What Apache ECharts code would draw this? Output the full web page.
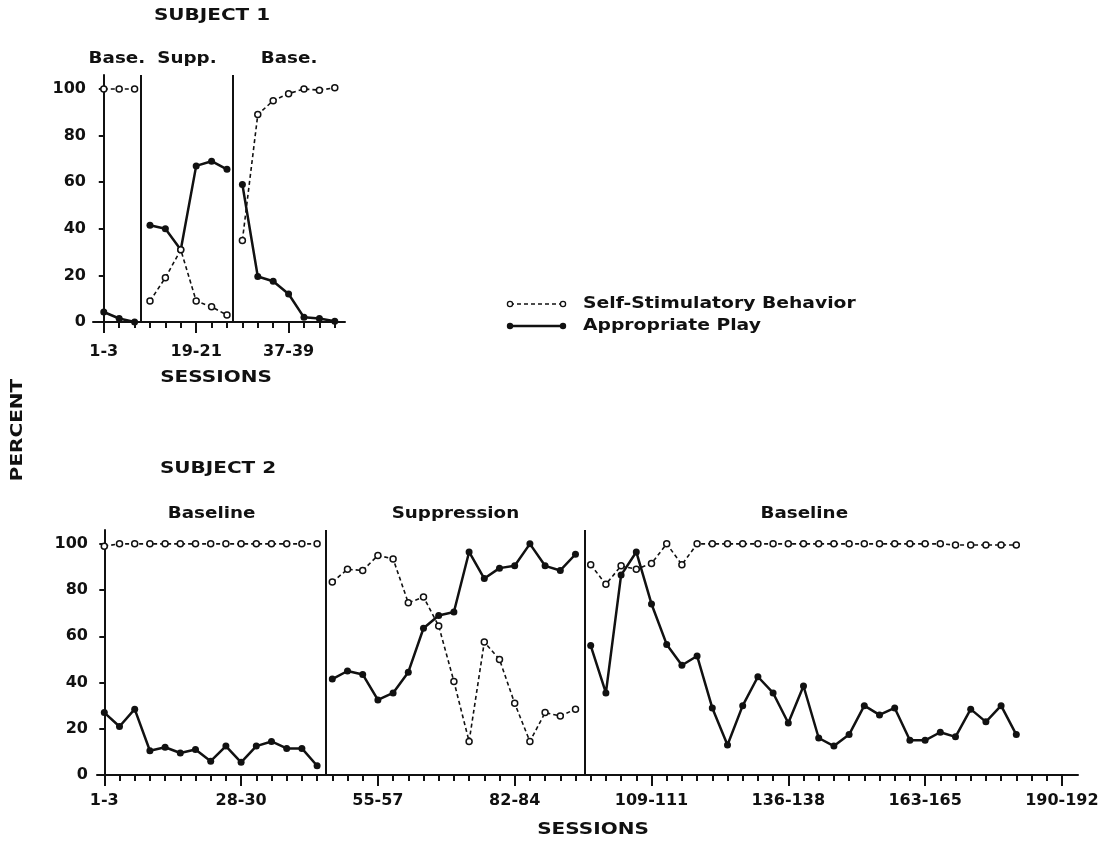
<!DOCTYPE html>
<html>
<head>
    <meta charset="UTF-8">
    <title>percent by sessions</title>
    <script src="https://cdn.jsdelivr.net/npm/echarts@6/dist/echarts.min.js"></script>
</head>
<style type="text/css">
    body {
        margin: 0;
        padding: 0;
        background: #fff;
    }
</style>
<body>
<div id="app" style="width: 1119px;height: 844px;"></div>
<script type="text/javascript">
    // subject 1, one value per block of 3 sessions
    var s1Self = [100, 100, 100, 9, 19, 31, 9, 6.5, 3, 35, 89, 95, 98, 100, 99.5, 100.5];
    var s1Play = [4.3, 1.5, 0, 41.5, 40, 31, 67, 69, 65.5, 59, 19.5, 17.5, 12, 2, 1.5, 0.3];
    var s1PhaseLengths = [3, 6, 7];
    var s1PhaseNames = ['Base.', 'Supp.', 'Base.'];
    var s1PhaseLines = [2.4, 8.4];
    var s1TickPos = [0, 6, 12];
    var s1TickLabels = ['1-3', '19-21', '37-39'];

    // subject 2
    var s2Self = [99, 100, 100, 100, 100, 100, 100, 100, 100, 100, 100, 100, 100, 100, 100,
        83.5, 89, 88.5, 95, 93.5, 74.5, 77, 64.5, 40.5, 14.5, 57.5, 50, 31, 14.5, 27, 25.5, 28.5,
        91, 82.5, 90.5, 89, 91.5, 100, 91, 100, 100, 100, 100, 100, 100, 100, 100, 100, 100, 100,
        100, 100, 100, 100, 100, 100, 99.5, 99.5, 99.5, 99.5, 99.5];
    var s2Play = [27, 21, 28.5, 10.5, 12, 9.5, 11, 6, 12.5, 5.5, 12.5, 14.5, 11.5, 11.5, 4,
        41.5, 45, 43.5, 32.5, 35.5, 44.5, 63.5, 69, 70.5, 96.5, 85, 89.5, 90.5, 100, 90.5, 88.5, 95.5,
        56, 35.5, 86.5, 96.5, 74, 56.5, 47.5, 51.5, 29, 13, 30, 42.5, 35.5, 22.5, 38.5, 16,
        12.5, 17.5, 30, 26, 29, 15, 15, 18.5, 16.5, 28.5, 23, 30, 17.5];
    var s2PhaseLengths = [15, 17, 29];
    var s2PhaseNames = ['Baseline', 'Suppression', 'Baseline'];
    var s2PhaseLines = [14.6, 31.6];
    var s2TickPos = [0, 9, 18, 27, 36, 45, 54, 63];
    var s2TickLabels = ['1-3', '28-30', '55-57', '82-84', '109-111', '136-138', '163-165', '190-192'];

    var yTicks = [0, 20, 40, 60, 80, 100];
    var legendNames = ['Self-Stimulatory Behavior', 'Appropriate Play'];

    var ink = '#111';

    var chart = echarts.init(document.getElementById('app'), null, {renderer: 'canvas'});

    // split one subject's values into one line per phase so lines break at phase changes
    function phaseSeries(values, lengths, axisIdx, open) {
        var out = [];
        var start = 0;
        lengths.forEach(function (len) {
            var pts = [];
            for (var k = 0; k < len; k++) {
                pts.push([start + k, values[start + k]]);
            }
            out.push({
                type: 'line',
                xAxisIndex: axisIdx,
                yAxisIndex: axisIdx,
                data: pts,
                symbol: 'circle',
                symbolSize: open ? 6 : 7,
                showAllSymbol: true,
                z: open ? 4 : 3,
                itemStyle: open ? {color: '#fff', borderColor: ink, borderWidth: 1.5} : {color: ink},
                lineStyle: open ? {color: ink, width: 1.6, type: [4, 3]} : {color: ink, width: 2.5}
            });
            start += len;
        });
        return out;
    }

    function phaseLineSeries(positions, axisIdx) {
        return {
            type: 'line',
            xAxisIndex: axisIdx,
            yAxisIndex: axisIdx,
            data: [],
            markLine: {
                silent: true,
                symbol: ['none', 'none'],
                label: {show: false},
                lineStyle: {color: ink, width: 2, type: 'solid'},
                data: positions.map(function (p) { return {xAxis: p}; })
            }
        };
    }

    function valueX(grid, min, max, showLine, tickLen, tickVals, labelPos, labelTexts, labelMargin) {
        return {
            type: 'value',
            gridIndex: grid,
            min: min,
            max: max,
            splitLine: {show: false},
            axisLine: {show: showLine, onZero: false, lineStyle: {color: ink, width: 2}},
            axisTick: {show: true, length: tickLen, customValues: tickVals, lineStyle: {color: ink, width: 2}},
            axisLabel: labelPos ? {
                show: true,
                customValues: labelPos,
                margin: labelMargin,
                color: ink,
                fontFamily: 'DejaVu Sans',
                fontWeight: 'bold',
                fontSize: 16,
                formatter: function (v) {
                    var i = labelPos.indexOf(Math.round(v));
                    return i >= 0 ? labelTexts[i] : '';
                }
            } : {show: false}
        };
    }

    function valueY(grid, show, margin) {
        return {
            type: 'value',
            gridIndex: grid,
            show: show,
            min: 0,
            max: 106,
            splitLine: {show: false},
            axisLine: {show: true, lineStyle: {color: ink, width: 2}},
            axisTick: {show: true, length: 5, customValues: yTicks, lineStyle: {color: ink, width: 2}},
            axisLabel: {
                customValues: yTicks,
                margin: margin,
                color: ink,
                fontFamily: 'DejaVu Sans',
                fontWeight: 'bold',
                fontSize: 16
            }
        };
    }

    var range1 = Array.from({length: s1Self.length}, function (_, i) { return i; });
    var range2 = Array.from({length: s2Self.length + 3}, function (_, i) { return i; });

    // grids 0/1 carry data, 2/3 sit on top of them only for the long labelled ticks
    var g1 = {left: 93, top: 75, width: 252, height: 247};
    var g2 = {left: 97, top: 530, width: 981, height: 245};

    var s1Min = -0.7, s1Max = -0.7 + 252 / 15.4;
    var s2Min = -0.48, s2Max = -0.48 + 981 / 15.2;

    function txt(text, x, y, opts) {
        opts = opts || {};
        return {
            type: 'text',
            x: x,
            y: y,
            rotation: opts.rotation || 0,
            scaleX: opts.scaleX || 1.22,
            style: {
                text: text,
                font: opts.font || 'bold 15px "DejaVu Sans"',
                fill: ink,
                align: opts.align || 'center',
                verticalAlign: 'middle'
            }
        };
    }

    function legendRow(y, open, label) {
        var x0 = 510, x1 = 563;
        var circ = function (cx) {
            return {
                type: 'circle',
                shape: {cx: cx, cy: y, r: open ? 2.6 : 3.2},
                style: open ? {fill: '#fff', stroke: ink, lineWidth: 1.3} : {fill: ink},
                z: 10
            };
        };
        return [
            {
                type: 'line',
                shape: {x1: x0, y1: y, x2: x1, y2: y},
                style: {stroke: ink, lineWidth: open ? 1.5 : 2.5, lineDash: open ? [4, 3] : null}
            },
            circ(x0), circ(x1),
            txt(label, 583, y, {align: 'left', scaleX: 1.25})
        ];
    }

    function phaseCenters(lines, min, max, left, width) {
        var edges = [min].concat(lines).concat([max]);
        var px = function (v) { return left + (v - min) / (max - min) * width; };
        return [0, 1, 2].map(function (i) { return (px(edges[i]) + px(edges[i + 1])) / 2; });
    }

    var c1 = phaseCenters(s1PhaseLines, s1Min, s1Max, g1.left, g1.width);
    var c2 = phaseCenters(s2PhaseLines, s2Min, 60.5, g2.left, g2.width * (60.5 - s2Min) / (s2Max - s2Min));

    var graphics = [
        txt('SUBJECT 1', 212, 16, {font: 'bold 16px "DejaVu Sans"', scaleX: 1.25}),
        txt('SUBJECT 2', 218, 469, {font: 'bold 16px "DejaVu Sans"', scaleX: 1.25}),
        txt('SESSIONS', 216, 378, {font: 'bold 16px "DejaVu Sans"', scaleX: 1.25}),
        txt('SESSIONS', 593, 830, {font: 'bold 16px "DejaVu Sans"', scaleX: 1.25}),
        txt('PERCENT', 18, 430, {font: 'bold 16px "DejaVu Sans"', scaleX: 1.25, rotation: Math.PI / 2})
    ];
    s1PhaseNames.forEach(function (n, i) { graphics.push(txt(n, c1[i], 59)); });
    s2PhaseNames.forEach(function (n, i) { graphics.push(txt(n, c2[i], 514)); });
    graphics = graphics.concat(legendRow(304, true, legendNames[0]), legendRow(326, false, legendNames[1]));

    var series = []
        .concat(phaseSeries(s1Play, s1PhaseLengths, 0, false))
        .concat(phaseSeries(s1Self, s1PhaseLengths, 0, true))
        .concat(phaseSeries(s2Play, s2PhaseLengths, 1, false))
        .concat(phaseSeries(s2Self, s2PhaseLengths, 1, true));
    series.push(phaseLineSeries(s1PhaseLines, 0));
    series.push(phaseLineSeries(s2PhaseLines, 1));

    chart.setOption({
        animation: false,
        backgroundColor: '#fff',
        grid: [g1, g2, g1, g2],
        xAxis: [
            valueX(0, s1Min, s1Max, true, 6, range1, null),
            valueX(1, s2Min, s2Max, true, 6, range2, null),
            valueX(2, s1Min, s1Max, false, 11, s1TickPos, s1TickPos, s1TickLabels, 22),
            valueX(3, s2Min, s2Max, false, 11, s2TickPos, s2TickPos, s2TickLabels, 18)
        ],
        yAxis: [
            valueY(0, true, 7),
            valueY(1, true, 9),
            valueY(2, false, 7),
            valueY(3, false, 9)
        ],
        graphic: graphics,
        series: series
    });
</script>
</body>
</html>
